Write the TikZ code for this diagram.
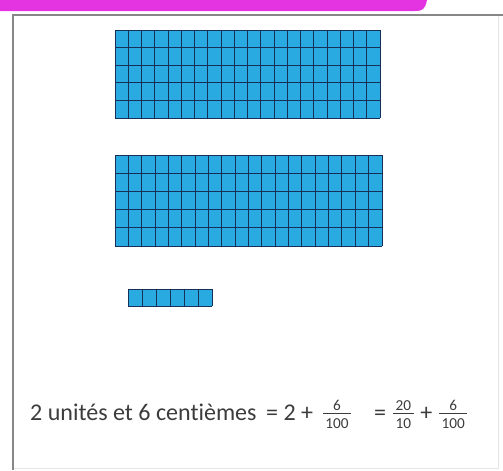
\documentclass[tikz,border=0pt]{standalone}
\usepackage{amsmath}
\usepackage{fontspec}
\setmainfont[Ligatures=NoCommon]{Carlito}
\usepackage{tikz}
\definecolor{barpink}{RGB}{228,52,226}
\definecolor{framegray}{RGB}{135,135,135}
\definecolor{cellblue}{RGB}{41,171,226}
\definecolor{celline}{RGB}{22,48,88}
\definecolor{eqtext}{RGB}{60,60,60}
\newcommand{\centfrac}[2]{$\frac{\text{\fontsize{13}{13}\selectfont\,#1\,}}{\text{\fontsize{13}{13}\selectfont\,#2\,}}$}

\begin{document}
\begin{tikzpicture}[x=0.03cm, y=-0.03cm,
    cellline/.style={draw=celline, line width=0.8pt},
    eqnode/.style={eqtext, anchor=base west, inner sep=0pt, font=\fontsize{20.5}{24}\selectfont}]
        \useasboundingbox (0,0) rectangle (503,470);
        % pink tab and page frame
        \fill[barpink] (0,0) -- (427,0) .. controls (425,9) and (423,11) .. (415,11) -- (0,11) -- cycle;
        \draw[gray!20, line width=0.6pt] (498,15) -- (498,468) -- (13,468);
        \draw[framegray, line width=1.5pt] (503,15) -- (13,15) -- (13,470);
        % two hundred-squares = 2 units
        \foreach \gy/\gw/\gh in {30/265/88, 155/267/91} {
          \fill[cellblue] (115,\gy) rectangle ++(\gw,\gh);
          \foreach \i in {0,...,20} \draw[cellline] ({115+\i*\gw/20},\gy) -- ++(0,\gh);
          \foreach \j in {0,...,5} \draw[cellline] (115,{\gy+\j*\gh/5}) -- ++(\gw,0);
        }
        % 6 hundredths
        \fill[cellblue] (128,289) rectangle ++(84,17);
        \foreach \i in {0,...,6} \draw[cellline] ({128+\i*14},289) -- ++(0,17);
        \draw[cellline] (128,289) -- ++(84,0) (128,306) -- ++(84,0);
        % equality
        \node[eqnode] (words) at (30,420) {2 unités et 6 centièmes};
        \node[eqnode] (sum) at (266,420) {= 2 +\hspace{7pt}\centfrac{6}{100}};
        \node[eqnode] (tenths) at (374,420) {= \centfrac{20}{10} + \centfrac{6}{100}};
      \end{tikzpicture}
\end{document}
